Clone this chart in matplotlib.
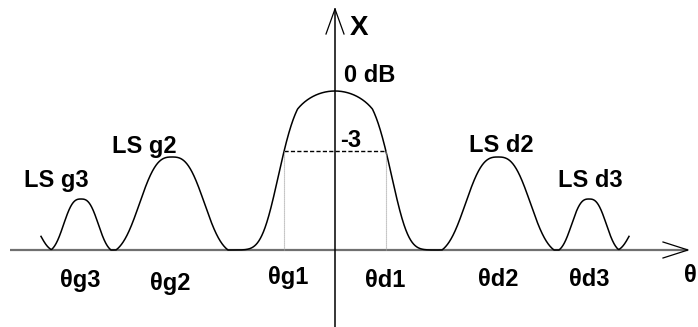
import numpy as np
import matplotlib.pyplot as plt

plt.rcParams['font.family'] = ['Liberation Sans', 'DejaVu Sans']

# radiation pattern lobes: centre angle, half width, height (drawing units)
lobe_centres = [-311, -254, -163, 0, 163, 254, 311]
lobe_halfwidths = [28, 30, 56, 98, 56, 30, 28]
lobe_heights = [30, 51, 93, 159, 93, 51, 30]
main_index = 3

# super-gaussian shape (order, width) for side lobes and main lobe flanks
side_shape = (2.8, 0.68)
main_shape = (4.46, 0.614)
# rounded cap of the main lobe (half width, depth), relative units
dome_width, dome_depth = 0.5, 0.32

theta_start, theta_end = -294, 294
level_3db = 99   # -3 dB level on the main lobe

lobe_labels = ['LS g3', 'LS g2', 'LS d2', 'LS d3']
label_x = [-279, -191, 166, 255]
label_y = [63, 97, 98, 63]

tick_labels = ['θg3', 'θg2', 'θg1', 'θd1', 'θd2', 'θd3']
tick_x = [-255, -165, -47, 50, 163, 254]
tick_y = [-37, -40, -34, -37, -36, -36]


def lobe(u, n, u0):
    u = np.abs(u)
    edge = np.exp(-(1 / u0) ** n)
    f = (np.exp(-(u / u0) ** n) - edge) / (1 - edge)
    return np.where(u < 1, f, 0.0)


def main_lobe(u):
    u = np.abs(u)
    r = np.clip(u / dome_width, 0, 1)
    cap = np.where(u < dome_width, 1 - dome_depth * (1 - np.sqrt(1 - r ** 2)), 10.0)
    return np.minimum(cap, lobe(u, *main_shape))


theta = np.linspace(theta_start, theta_end, 4000)
level = np.zeros_like(theta)
for i, (c, w, h) in enumerate(zip(lobe_centres, lobe_halfwidths, lobe_heights)):
    u = (theta - c) / w
    level += h * (main_lobe(u) if i == main_index else lobe(u, *side_shape))

# where the main lobe crosses the -3 dB level
w_main = lobe_halfwidths[main_index]
t = np.linspace(0, w_main, 2000)
v = lobe_heights[main_index] * main_lobe(t / w_main)
theta_3db = np.interp(level_3db, v[::-1], t[::-1])

fig = plt.figure(figsize=(6.98, 3.27), dpi=100)
ax = fig.add_axes([0, 0, 1, 1])
ax.set_xlim(-335, 363)
ax.set_ylim(-77, 250)
ax.axis('off')

# axes with open arrow heads
ax.plot([-325, 353], [0, 0], color='#707070', lw=1.6, solid_capstyle='butt')
ax.plot([328, 353, 328], [8, 0, -8], color='black', lw=0.9)
ax.plot([0, 0], [-77, 241], color='black', lw=1.1)
ax.plot([-9, 0, 9], [216, 241, 216], color='black', lw=0.9)

# pattern
ax.plot(theta, level, color='black', lw=1.1)

# -3 dB markers
ax.plot([-theta_3db, theta_3db], [level_3db, level_3db], color='black',
        lw=1.0, dashes=(3, 1.6))
for s in (-1, 1):
    ax.plot([s * theta_3db, s * theta_3db], [0, level_3db], color='#a0a0a0',
            lw=0.8, dashes=(1, 0.8))

font = dict(fontsize=17, fontweight='bold', va='baseline')
ax.text(15, 215, 'X', ha='left', fontsize=20, fontweight='bold', va='baseline')
ax.text(9, 168, '0 dB', ha='left', **font)
ax.text(5, 103, '-3', ha='left', **font)
for lab, x, y in zip(lobe_labels, label_x, label_y):
    ax.text(x, y, lab, ha='center', **font)
for lab, x, y in zip(tick_labels, tick_x, tick_y):
    ax.text(x, y, lab, ha='center', **font)
ax.text(355, -32, 'θ', ha='center', **font)

fig.savefig('out.png', dpi=100)
